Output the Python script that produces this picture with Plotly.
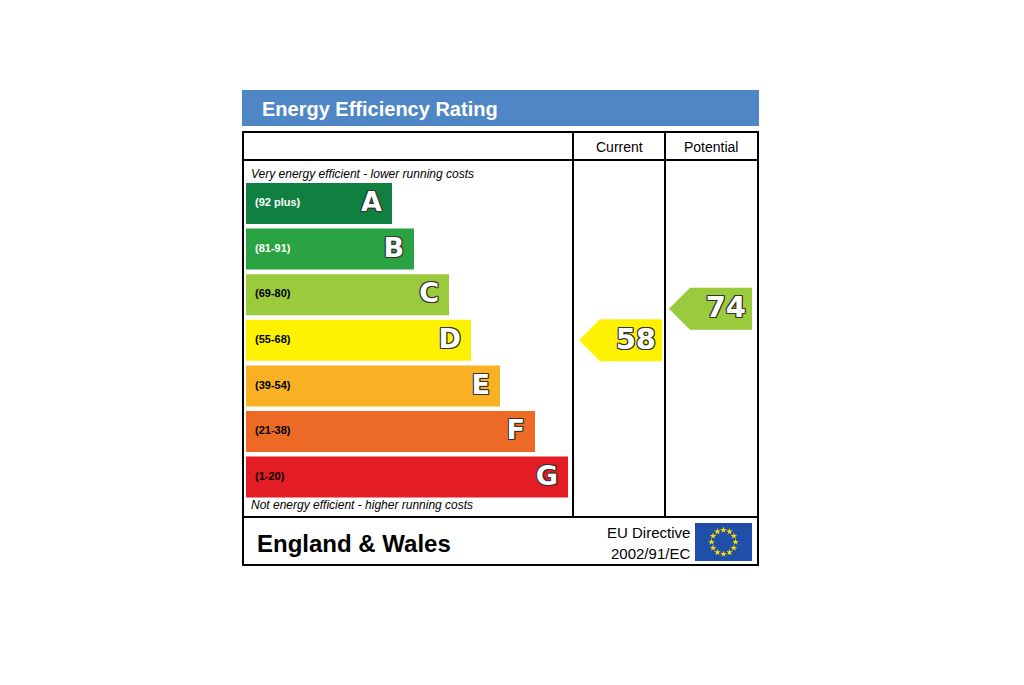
import plotly.graph_objects as go
import math

bands = ["A", "B", "C", "D", "E", "F", "G"]
ranges = ["(92 plus)", "(81-91)", "(69-80)", "(55-68)", "(39-54)", "(21-38)", "(1-20)"]
lows = [92, 81, 69, 55, 39, 21, 1]
bar_len = [146, 168, 203, 225, 254, 289, 322]
colors = ["#0f8040", "#2aa443", "#9acb3c", "#fff200", "#f7b122", "#ec6a26", "#e31d23"]
range_col = ["white", "white", "black", "black", "black", "black", "black"]
current = 58
potential = 74

X0 = 246
Y0 = 203.5
DY = 45.6
BH = 41
yc = [Y0 + i * DY for i in range(7)]

def band_of(v):
    for i, lo in enumerate(lows):
        if v >= lo:
            return i
    return 6

outline = "1px 1px 0 #333, -1px -1px 0 #333, 1px -1px 0 #333, -1px 1px 0 #333, 0 1px 0 #333, 0 -1px 0 #333, 1px 0 0 #333, -1px 0 0 #333"

fig = go.Figure()
fig.add_trace(go.Bar(orientation="h", y=yc, x=bar_len, base=X0, width=BH,
                     marker=dict(color=colors, line_width=0), hoverinfo="skip"))
fig.add_trace(go.Scatter(x=[255] * 7, y=yc, mode="text", text=ranges, textposition="middle right",
                         textfont=dict(family="Arial, Liberation Sans", size=11, color=range_col, weight="bold")))
fig.add_trace(go.Scatter(x=[X0 + l - 10 for l in bar_len], y=[c + 1 for c in yc], mode="text", text=bands,
                         textposition="middle left",
                         textfont=dict(family="DejaVu Sans", size=27, color="white", weight="bold", shadow=outline)))

shapes = []
shapes.append(dict(type="rect", x0=242, x1=759, y0=90, y1=126, fillcolor="#4f86c6", line_width=0, layer="below"))
L = dict(color="black", width=2)
shapes.append(dict(type="rect", x0=243, x1=758, y0=132, y1=565, line=L, layer="below"))
for (a, b, c, d) in [(243, 160, 758, 160), (573, 132, 573, 517), (665, 132, 665, 517), (243, 517, 758, 517)]:
    shapes.append(dict(type="line", x0=a, y0=b, x1=c, y1=d, line=L, layer="below"))

def arrow(xl, xr, y, col):
    h = 21
    return dict(type="path", path=f"M {xl},{y} L {xl+h},{y-h} L {xr},{y-h} L {xr},{y+h} L {xl+h},{y+h} Z",
                fillcolor=col, line_width=0, layer="below")

labels = []
for val, xl, xr in [(current, 579, 662), (potential, 669, 752)]:
    bi = band_of(val)
    y = yc[bi]
    if val == potential:
        y = yc[bi] + 14
    shapes.append(arrow(xl, xr, y, colors[bi]))
    labels.append((xr - 6, y + 1, str(val)))
fig.add_trace(go.Scatter(x=[l[0] for l in labels], y=[l[1] for l in labels], mode="text",
                         text=[l[2] for l in labels], textposition="middle left",
                         textfont=dict(family="DejaVu Sans", size=29, color="white", weight="bold", shadow=outline)))

shapes.append(dict(type="rect", x0=695, x1=752, y0=523, y1=561, fillcolor="#1f4fa8", line_width=0, layer="below"))
sx = [723.5 + 12 * math.cos(2 * math.pi * k / 12) for k in range(12)]
sy = [542 + 12 * math.sin(2 * math.pi * k / 12) for k in range(12)]
fig.add_trace(go.Scatter(x=sx, y=sy, mode="markers", marker=dict(symbol="star", size=5, color="#ffdd00")))

T = dict(family="Arial, Liberation Sans", color="black")
ann = [
    dict(x=260, y=109, text="<b>Energy Efficiency Rating</b>", xanchor="left", font=dict(size=20, color="white", family="Arial, Liberation Sans")),
    dict(x=619, y=147, text="Current", xanchor="center", font=dict(size=14, **T)),
    dict(x=711, y=147, text="Potential", xanchor="center", font=dict(size=14, **T)),
    dict(x=249, y=174, text="<i>Very energy efficient - lower running costs</i>", xanchor="left", font=dict(size=12, **T)),
    dict(x=249, y=505, text="<i>Not energy efficient - higher running costs</i>", xanchor="left", font=dict(size=12, **T)),
    dict(x=255, y=543, text="<b>England &amp; Wales</b>", xanchor="left", font=dict(size=24, **T)),
    dict(x=692, y=532, text="EU Directive", xanchor="right", font=dict(size=15, **T)),
    dict(x=692, y=553, text="2002/91/EC", xanchor="right", font=dict(size=15, **T)),
]
for a in ann:
    a.update(showarrow=False, xref="x", yref="y", yanchor="middle")

fig.update_layout(width=1024, height=685, margin=dict(l=0, r=0, t=0, b=0), showlegend=False,
                  plot_bgcolor="white", paper_bgcolor="white", shapes=shapes, annotations=ann,
                  xaxis=dict(range=[8, 1032], visible=False, fixedrange=True),
                  yaxis=dict(range=[693, 8], visible=False, fixedrange=True))
fig.write_html("out.html", config={"displayModeBar": False})
